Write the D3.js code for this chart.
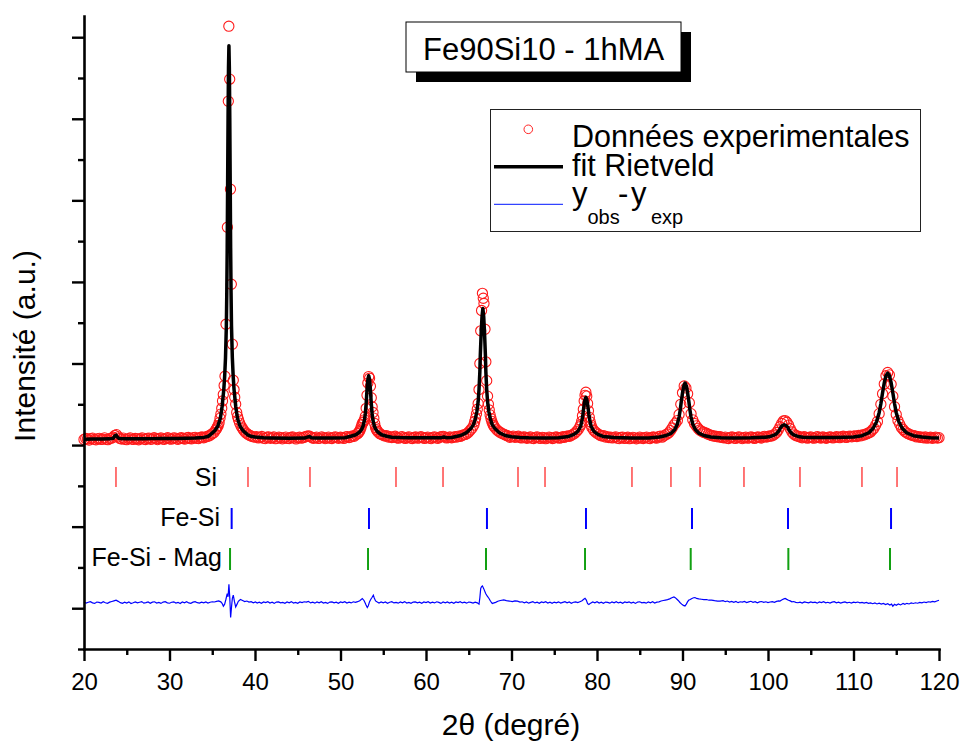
<!DOCTYPE html>
<html><head><meta charset="utf-8">
<script src="https://cdn.jsdelivr.net/npm/d3@7"></script>
<style>body{margin:0;background:#fff} svg{display:block} text{font-family:"Liberation Sans",Arial,sans-serif}</style>
</head><body><svg id="c" width="963" height="745"></svg>
<script>
// ---------- DATA ----------
const xTicksMajor = [20,30,40,50,60,70,80,90,100,110,120];
const xTicksMinor = [25,35,45,55,65,75,85,95,105,115];
const yTicksMajor = [0,1000,2000,3000,4000,5000,6000,7000];
const yTicksMinor = [-500,500,1500,2500,3500,4500,5500,6500];

const phaseNames = ["Si","Fe-Si","Fe-Si - Mag"];
const siPeaks = [23.74,39.18,46.43,56.49,61.99,70.76,73.92,84.09,88.65,92.05,97.19,103.74,110.99,115.09];
const feSiPeaks = [37.27,53.33,67.13,78.71,91.11,102.34,114.39];
const feSiMagPeaks = [37.08,53.22,67.02,78.60,90.96,102.38,114.27];

const legendLabels = ["Données experimentales","fit Rietveld"];
const titleText = "Fe90Si10 - 1hMA";
const diffOffset = 70;

// observed intensities [2theta, counts]
const obsPoints = [
[20.0,2068],[20.2,2081],[20.4,2075],[20.6,2062],[20.8,2079],[21.0,2086],[21.2,2070],[21.4,2064],[21.6,2077],[21.8,2083],[22.0,2069],[22.2,2074],[22.4,2088],[22.6,2071],[22.8,2066],[23.0,2080],[23.2,2084],[23.4,2096],[23.6,2118],[23.8,2128],[24.0,2101],[24.2,2082],[24.4,2073],[24.6,2085],[24.8,2070],[25.0,2066],[25.2,2079],[25.4,2088],[25.6,2074],[25.8,2069],[26.0,2081],[26.2,2076],[26.4,2065],[26.6,2078],[26.8,2089],[27.0,2073],[27.2,2068],[27.4,2082],[27.6,2086],[27.8,2071],[28.0,2075],[28.2,2090],[28.4,2079],[28.6,2067],[28.8,2080],[29.0,2087],[29.2,2074],[29.4,2070],[29.6,2083],[29.8,2091],[30.0,2077],[30.2,2072],[30.4,2085],[30.6,2089],[30.8,2076],[31.0,2070],[31.2,2084],[31.4,2092],[31.6,2080],[31.8,2074],[32.0,2087],[32.2,2093],[32.4,2079],[32.6,2076],[32.8,2090],[33.0,2094],[33.2,2082],[33.4,2079],[33.6,2093],[33.8,2099],[34.0,2090],[34.2,2098],[34.4,2106],[34.6,2112],[34.8,2124],
[35.0,2140],[35.2,2155],[35.4,2185],[35.5,2200],[35.6,2222],[35.7,2240],[35.8,2275],[35.91,2330],[36.01,2380],[36.11,2450],[36.20,2540],[36.29,2620],[36.39,2730],[36.49,2844],[36.61,3482],[36.77,4671],[36.88,6216],[36.94,7135],[37.04,6486],[37.13,5137],[37.23,3972],[37.35,3237],[37.46,2795],[37.55,2680],[37.63,2587],[37.74,2500],[37.86,2400],[37.96,2350],[38.07,2310],[38.2,2270],[38.36,2235],[38.5,2210],[38.65,2185],[38.83,2160],[39.0,2145],[39.2,2130],[39.4,2118],[39.6,2108],[39.8,2101],[40.0,2098],
[40.2,2102],[40.4,2088],[40.6,2094],[40.8,2105],[41.0,2085],[41.2,2079],[41.4,2096],[41.6,2100],[41.8,2083],[42.0,2091],[42.2,2099],[42.4,2078],[42.6,2084],[42.8,2097],[43.0,2090],[43.2,2076],[43.4,2088],[43.6,2098],[43.8,2082],[44.0,2079],[44.2,2093],[44.4,2100],[44.6,2087],[44.8,2075],[45.0,2089],[45.2,2096],[45.4,2084],[45.6,2091],[45.8,2099],[46.0,2105],[46.2,2112],[46.4,2108],[46.6,2095],[46.8,2083],[47.0,2090],[47.2,2098],[47.4,2081],[47.6,2086],[47.8,2100],[48.0,2092],[48.2,2079],[48.4,2088],[48.6,2097],[48.8,2085],[49.0,2080],[49.2,2094],[49.4,2101],[49.6,2089],[49.8,2083],[50.0,2096],[50.2,2092],[50.4,2081],[50.6,2099],[50.8,2104],[51.0,2093],[51.2,2100],[51.4,2112],[51.6,2108],[51.8,2125],
[52.0,2140],[52.1,2150],[52.2,2165],[52.3,2185],[52.4,2215],[52.5,2250],[52.6,2275],[52.7,2285],[52.8,2310],[52.9,2350],[53.0,2450],[53.1,2610],[53.2,2760],[53.3,2840],[53.4,2820],[53.5,2720],[53.6,2580],[53.7,2470],[53.8,2400],[53.9,2330],[54.0,2265],[54.1,2215],[54.2,2190],[54.3,2172],[54.4,2160],[54.6,2140],[54.8,2128],[55.0,2120],
[55.2,2110],[55.4,2115],[55.6,2098],[55.8,2103],[56.0,2092],[56.2,2099],[56.4,2108],[56.6,2090],[56.8,2085],[57.0,2098],[57.2,2103],[57.4,2089],[57.6,2082],[57.8,2095],[58.0,2100],[58.2,2086],[58.4,2080],[58.6,2093],[58.8,2099],[59.0,2084],[59.2,2089],[59.4,2102],[59.6,2095],[59.8,2081],[60.0,2090],[60.2,2098],[60.4,2086],[60.6,2079],[60.8,2094],[61.0,2101],[61.2,2088],[61.4,2083],[61.6,2097],[61.8,2103],[62.0,2106],[62.2,2099],[62.4,2087],[62.6,2092],[62.8,2100],[63.0,2089],[63.2,2095],[63.4,2104],[63.6,2098],[63.8,2110],[64.0,2106],[64.2,2118],[64.4,2125],[64.6,2130],[64.8,2142],[65.0,2160],[65.2,2185],[65.4,2210],
[65.6,2245],[65.7,2290],[65.8,2330],[65.9,2380],[66.0,2440],[66.1,2510],[66.2,2680],[66.3,3000],[66.4,3400],[66.5,3650],[66.6,3860],[66.7,3800],[66.78,3736],[66.9,3420],[67.0,3020],[67.1,2790],[67.2,2600],[67.3,2500],[67.4,2430],[67.5,2370],[67.6,2325],[67.7,2290],[67.8,2262],[67.9,2240],[68.0,2222],[68.2,2196],[68.4,2175],[68.6,2160],[68.8,2148],[69.0,2138],[69.2,2128],[69.4,2118],
[69.6,2112],[69.8,2096],[70.0,2104],[70.2,2110],[70.4,2095],[70.6,2101],[70.8,2108],[71.0,2092],[71.2,2087],[71.4,2100],[71.6,2096],[71.8,2083],[72.0,2091],[72.2,2099],[72.4,2085],[72.6,2080],[72.8,2094],[73.0,2100],[73.2,2087],[73.4,2082],[73.6,2095],[73.8,2090],[74.0,2078],[74.2,2086],[74.4,2097],[74.6,2092],[74.8,2080],[75.0,2088],[75.2,2099],[75.4,2093],[75.6,2084],[75.8,2091],[76.0,2102],[76.2,2096],[76.4,2105],[76.6,2112],[76.8,2108],[77.0,2120],[77.2,2132],[77.4,2145],
[77.6,2165],[77.8,2190],[78.0,2225],[78.1,2250],[78.2,2290],[78.3,2360],[78.4,2440],[78.5,2540],[78.6,2610],[78.7,2648],[78.8,2600],[78.9,2510],[79.0,2420],[79.1,2340],[79.2,2285],[79.3,2245],[79.4,2215],[79.6,2182],[79.8,2160],[80.0,2146],[80.2,2132],
[80.4,2118],[80.6,2110],[80.8,2115],[81.0,2098],[81.2,2104],[81.4,2092],[81.6,2097],[81.8,2088],[82.0,2095],[82.2,2101],[82.4,2084],[82.6,2079],[82.8,2093],[83.0,2098],[83.2,2082],[83.4,2087],[83.6,2096],[83.8,2078],[84.0,2083],[84.2,2094],[84.4,2089],[84.6,2076],[84.8,2085],[85.0,2097],[85.2,2088],[85.4,2080],[85.6,2092],[85.8,2098],[86.0,2084],[86.2,2079],[86.4,2093],[86.6,2099],[86.8,2090],[87.0,2086],[87.2,2102],[87.4,2108],[87.6,2097],[87.8,2112],
[88.0,2125],[88.2,2135],[88.4,2150],[88.6,2178],[88.8,2210],[89.0,2245],[89.2,2270],[89.4,2300],[89.6,2375],[89.8,2500],[90.0,2640],[90.2,2725],[90.4,2700],[90.6,2630],[90.8,2520],[91.0,2385],[91.2,2310],[91.4,2265],[91.6,2235],[91.8,2205],[92.0,2185],[92.2,2172],[92.4,2160],[92.6,2152],[92.8,2145],[93.0,2133],[93.2,2125],[93.4,2118],[93.6,2112],[93.8,2109],[94.0,2106],[94.2,2100],[94.4,2103],
[94.6,2094],[94.8,2089],[95.0,2098],[95.2,2085],[95.4,2080],[95.6,2094],[95.8,2099],[96.0,2087],[96.2,2082],[96.4,2095],[96.6,2100],[96.8,2088],[97.0,2079],[97.2,2091],[97.4,2097],[97.6,2084],[97.8,2089],[98.0,2101],[98.2,2093],[98.4,2082],[98.6,2090],[98.8,2099],[99.0,2094],[99.2,2086],[99.4,2100],[99.6,2106],[99.8,2098],[100.0,2105],[100.2,2112],[100.4,2110],
[100.6,2120],[100.8,2135],[101.0,2155],[101.2,2185],[101.4,2225],[101.6,2265],[101.8,2295],[102.0,2300],[102.2,2280],[102.4,2245],[102.6,2200],[102.8,2160],[103.0,2135],[103.2,2120],[103.4,2112],[103.6,2105],
[103.8,2098],[104.0,2090],[104.2,2102],[104.4,2096],[104.6,2085],[104.8,2093],[105.0,2100],[105.2,2089],[105.4,2084],[105.6,2097],[105.8,2103],[106.0,2091],[106.2,2086],[106.4,2099],[106.6,2094],[106.8,2083],[107.0,2092],[107.2,2101],[107.4,2096],[107.6,2088],[107.8,2095],[108.0,2104],[108.2,2098],[108.4,2091],[108.6,2102],[108.8,2108],[109.0,2099],[109.2,2094],[109.4,2106],[109.6,2110],[109.8,2101],[110.0,2108],[110.2,2112],
[110.4,2105],[110.6,2118],[110.8,2112],[111.0,2124],[111.2,2122],[111.4,2133],[111.6,2140],[111.8,2152],[112.0,2160],[112.2,2185],[112.4,2205],[112.6,2245],[112.8,2290],[113.0,2385],[113.2,2500],[113.4,2630],[113.6,2750],[113.8,2850],[114.0,2890],[114.2,2860],[114.4,2745],[114.6,2600],[114.8,2470],[115.0,2375],[115.2,2300],[115.4,2255],[115.6,2215],[115.8,2190],[116.0,2165],[116.2,2150],[116.4,2140],[116.6,2128],[116.8,2122],[117.0,2115],[117.2,2112],[117.4,2100],[117.6,2104],[117.8,2096],[118.0,2098],
[118.2,2090],[118.4,2099],[118.6,2085],[118.8,2092],[119.0,2096],[119.2,2083],[119.4,2090],[119.6,2097],[119.8,2086],[120.0,2091]
];

// Rietveld fit [2theta, counts]
const fitPoints = [
[20.0,2072],[21.0,2073],[22.0,2074],[23.0,2076],[23.4,2082],[23.6,2112],[23.75,2122],[23.9,2100],[24.1,2080],[25.0,2077],[26.0,2078],[27.0,2078],[28.0,2079],[29.0,2080],[30.0,2081],[31.0,2082],[32.0,2084],[33.0,2087],[34.0,2094],[34.5,2105],
[34.75,2125],[35.25,2170],[35.65,2230],[35.95,2330],[36.15,2470],[36.35,2680],[36.45,2840],[36.55,3071],[36.65,3463],[36.70,3868],[36.75,4419],[36.80,5216],[36.85,6013],[36.90,6626],[36.95,6896],[37.00,6626],[37.05,6013],[37.10,5216],[37.15,4419],[37.20,3868],[37.25,3463],[37.35,3071],[37.45,2840],[37.55,2680],[37.75,2470],[37.95,2330],[38.25,2230],[38.65,2170],[39.15,2125],[39.5,2108],[40.0,2098],
[41.0,2090],[42.0,2087],[44.0,2085],[45.8,2086],[46.2,2100],[46.4,2104],[46.6,2090],[47.0,2086],[49.0,2086],[50.5,2090],
[51.2,2108],[51.8,2127],[52.2,2157],[52.45,2188],[52.65,2237],[52.8,2305],[52.9,2384],[53.0,2507],[53.1,2678],[53.2,2801],[53.3,2850],[53.4,2801],[53.5,2678],[53.6,2507],[53.7,2384],[53.8,2305],[53.95,2237],[54.15,2188],[54.4,2157],[54.8,2127],[55.4,2108],
[56.0,2097],[57.0,2092],[58.0,2090],[60.0,2090],[61.8,2091],[62.1,2098],[62.4,2091],[63.0,2093],
[64.05,2117],[64.75,2153],[65.25,2202],[65.55,2251],[65.75,2313],[65.95,2411],[66.1,2533],[66.2,2680],[66.3,2901],[66.35,3097],[66.45,3367],[66.55,3575],[66.65,3674],[66.75,3575],[66.85,3367],[66.95,3097],[67.0,2901],[67.1,2680],[67.2,2533],[67.35,2411],[67.55,2313],[67.75,2251],[68.05,2202],[68.55,2153],[69.25,2117],
[70.0,2102],[71.0,2094],[72.0,2090],[74.0,2088],[75.5,2090],
[76.7,2106],[77.3,2131],[77.7,2162],[77.9,2192],[78.1,2235],[78.25,2309],[78.35,2376],[78.4,2419],[78.5,2499],[78.6,2560],[78.7,2585],[78.8,2560],[78.9,2499],[79.0,2419],[79.05,2376],[79.15,2309],[79.3,2235],[79.5,2192],[79.7,2162],[80.1,2131],[80.7,2106],
[82.0,2092],[84.0,2086],[86.0,2086],
[87.3,2098],[88.1,2117],[88.7,2147],[89.1,2190],[89.4,2258],[89.6,2343],[89.75,2442],[89.85,2527],[90.0,2638],[90.15,2724],[90.3,2760],[90.45,2724],[90.6,2638],[90.75,2527],[90.85,2442],[91.0,2343],[91.2,2258],[91.5,2190],[91.9,2147],[92.5,2117],[93.3,2098],
[94.5,2090],[96.0,2088],[98.0,2089],
[99.7,2096],[100.3,2106],[100.7,2121],[101.0,2139],[101.25,2170],[101.5,2219],[101.7,2240],[101.9,2249],[102.1,2240],[102.3,2219],[102.55,2170],[102.8,2139],[103.1,2121],[103.5,2106],[104.1,2096],
[105.0,2092],[106.0,2092],[108.0,2094],
[110.0,2100],[111.0,2115],[111.8,2151],[112.3,2206],[112.7,2286],[113.0,2397],[113.2,2507],[113.4,2642],[113.6,2764],[113.8,2850],[114.0,2882],[114.2,2850],[114.4,2764],[114.6,2642],[114.8,2507],[115.0,2397],[115.3,2286],[115.7,2206],[116.2,2151],[117.0,2115],[118.0,2100],[119.0,2090],[120.0,2086]
];

// difference y_obs - y_calc [2theta, counts]
const diffPoints = [
[20.00,5],[20.25,-8],[20.50,3],[20.75,10],[21.00,-4],[21.25,-11],[21.50,6],[21.75,2],[22.00,-7],[22.25,9],[22.50,-3],[22.75,-10],[23.00,4],[23.25,12],[23.50,20],[23.75,28],[24.00,14],[24.25,-2],[24.50,-9],[24.75,5],[25.00,-6],[25.25,8],[25.50,-12],[25.75,-3],[26.00,7],[26.25,-5],[26.50,3],[26.75,11],[27.00,-8],[27.25,-2],[27.50,6],[27.75,-10],[28.00,4],[28.25,9],[28.50,-6],[28.75,1],[29.00,-11],[29.25,5],[29.50,10],[29.75,-4],[30.00,-9],[30.25,3],[30.50,8],[30.75,-7],[31.00,2],[31.25,-12],[31.50,6],[31.75,-3],[32.00,9],[32.25,-5],[32.50,-10],[32.75,4],[33.00,11],[33.25,-2],[33.50,-8],[33.75,5],[34.00,-4],[34.25,7],[34.50,-6],[34.75,3],[35.00,9],[35.25,6],[35.50,14],[35.75,20],[36.00,8],[36.15,-10],[36.30,-45],[36.45,-20],[36.60,40],[36.75,110],[36.85,70],[36.95,224],[37.05,60],[37.15,-184],[37.25,-60],[37.35,50],[37.46,90],[37.60,10],[37.74,-54],[37.90,-20],[38.05,15],[38.30,37],[38.55,25],[38.80,12],[39.05,18],[39.30,5],[39.55,10],[39.80,-3],
[40.05,8],[40.25,-6],[40.50,4],[40.75,-9],[41.00,6],[41.25,-2],[41.50,10],[41.75,-7],[42.00,3],[42.25,-11],[42.50,5],[42.75,8],[43.00,-4],[43.25,2],[43.50,-9],[43.75,7],[44.00,-3],[44.25,11],[44.50,-6],[44.75,1],[45.00,-10],[45.25,6],[45.50,-2],[45.75,9],[46.00,4],[46.25,14],[46.50,-5],[46.75,3],[47.00,-8],[47.25,7],[47.50,-3],[47.75,10],[48.00,-6],[48.25,2],[48.50,-11],[48.75,5],[49.00,8],[49.25,-4],[49.50,3],[49.75,-9],[50.00,6],[50.25,-2],[50.50,10],[50.75,-7],[51.00,4],[51.25,-5],[51.50,9],[51.75,2],[52.00,10],[52.25,22],[52.55,49],[52.75,25],[52.90,-10],[53.00,-35],[53.13,-61],[53.25,-40],[53.40,10],[53.55,40],[53.70,65],[53.84,90],[53.95,55],[54.10,20],[54.30,5],[54.50,-6],[54.75,8],[55.00,-3],[55.25,6],[55.50,-9],[55.75,3],[56.00,10],[56.25,-5],[56.50,2],[56.75,-8],[57.00,7],[57.25,-3],[57.50,11],[57.75,-6],[58.00,1],[58.25,-10],[58.50,5],[58.75,8],[59.00,-4],[59.25,3],[59.50,-9],[59.75,6],
[60.00,-2],[60.25,10],[60.50,-7],[60.75,4],[61.00,-5],[61.25,9],[61.50,2],[61.75,-11],[62.00,6],[62.25,-3],[62.50,8],[62.75,-6],[63.00,3],[63.25,-9],[63.50,7],[63.75,-2],[64.00,10],[64.25,-5],[64.50,4],[64.75,-8],[65.00,6],[65.25,1],[65.50,-7],[65.75,5],[66.00,-4],[66.20,-21],[66.30,60],[66.40,172],[66.50,195],[66.60,204],[66.75,170],[66.98,110],[67.15,80],[67.37,49],[67.55,15],[67.75,-12],[67.95,-5],[68.15,2],[68.40,15],[68.70,25],[69.10,33],[69.40,24],[69.75,18],[70.10,10],[70.40,20],[70.70,16],[71.00,4],[71.25,9],[71.50,-3],[71.75,6],[72.00,-8],[72.25,2],[72.50,10],[72.75,-5],[73.00,3],[73.25,-9],[73.50,7],[73.75,-2],[74.00,9],[74.25,-6],[74.50,4],[74.75,-10],[75.00,5],[75.25,-3],[75.50,8],[75.75,-7],[76.00,2],[76.25,11],[76.50,-4],[76.75,6],[77.00,-9],[77.25,3],[77.50,7],[77.75,-2],[78.00,10],[78.25,22],[78.45,40],[78.60,52],[78.75,30],[78.90,-15],[79.05,-25],[79.25,-8],[79.50,6],[79.75,-3],
[80.00,9],[80.25,-6],[80.50,4],[80.75,-10],[81.00,5],[81.25,2],[81.50,-8],[81.75,7],[82.00,-3],[82.25,10],[82.50,-5],[82.75,3],[83.00,-9],[83.25,6],[83.50,-2],[83.75,8],[84.00,-7],[84.25,4],[84.50,-11],[84.75,5],[85.00,9],[85.25,-4],[85.50,2],[85.75,-8],[86.00,6],[86.25,-3],[86.50,10],[86.75,-6],[87.00,4],[87.25,8],[87.50,18],[87.75,25],[88.00,30],[88.25,35],[88.50,45],[88.75,58],[89.00,69],[89.15,60],[89.35,40],[89.50,25],[89.70,0],[89.90,-20],[90.10,-35],[90.29,-42],[90.45,-20],[90.60,10],[90.75,30],[90.90,37],[91.10,50],[91.30,58],[91.46,61],[91.65,50],[91.90,44],[92.20,40],[92.50,35],[92.80,37],[93.10,28],[93.40,30],[93.75,22],[94.10,18],[94.40,16],[94.75,22],[95.00,10],[95.25,18],[95.50,6],[95.75,14],[96.00,3],[96.25,12],[96.50,-2],[96.75,9],[97.00,4],[97.25,13],[97.50,-1],[97.75,8],[98.00,15],[98.25,3],[98.50,10],[98.75,-3],[99.00,7],[99.25,12],[99.50,2],[99.75,9],
[100.00,-2],[100.25,6],[100.50,11],[100.75,3],[101.00,14],[101.25,20],[101.40,18],[101.60,30],[101.80,42],[102.00,49],[102.20,38],[102.40,28],[102.60,20],[102.80,8],[103.00,12],[103.25,2],[103.50,-3],[103.75,5],[104.00,-6],[104.25,8],[104.50,1],[104.75,-5],[105.00,7],[105.25,-2],[105.50,4],[105.75,-8],[106.00,6],[106.25,-1],[106.50,9],[106.75,-4],[107.00,3],[107.25,-7],[107.50,5],[107.75,10],[108.00,-3],[108.25,4],[108.50,-6],[108.75,2],[109.00,8],[109.25,-4],[109.50,3],[109.75,-7],[110.00,5],[110.25,-2],[110.50,6],[110.75,-5],[111.00,2],[111.25,-8],[111.50,1],[111.75,-10],[112.00,-4],[112.25,-15],[112.50,-6],[112.75,-18],[113.00,-9],[113.25,-20],[113.50,-12],[113.75,-25],[114.00,-14],[114.25,-30],[114.45,-20],[114.60,-45],[114.80,-22],[115.00,-35],[115.25,-18],[115.50,-30],[115.80,-12],[116.00,-22],[116.25,-10],[116.50,-18],[116.75,-6],[117.00,-12],[117.25,-3],[117.50,-9],[117.75,2],[118.00,-5],[118.25,6],[118.50,-2],[118.75,9],[119.00,4],[119.25,14],[119.50,8],[119.75,18],[120.00,28]
];

// ---------- CHART ----------
const FONT = '"Liberation Sans", Arial, sans-serif';
const svg = d3.select('#c');
const x = d3.scaleLinear().domain([20,120]).range([84,939]);
const y = d3.scaleLinear().domain([-500,7260]).range([649,16]);

// observed circles
svg.append('g').selectAll('circle').data(obsPoints).join('circle')
  .attr('cx', d => x(d[0])).attr('cy', d => y(d[1])).attr('r', 5.1)
  .attr('fill', 'none').attr('stroke', '#ff1a1a').attr('stroke-width', 1.1);

// fit line
svg.append('path').datum(fitPoints)
  .attr('d', d3.line().x(d => x(d[0])).y(d => y(d[1])))
  .attr('fill', 'none').attr('stroke', '#000').attr('stroke-width', 3.5)
  .attr('stroke-linejoin', 'round');

// difference line
svg.append('path').datum(diffPoints)
  .attr('d', d3.line().x(d => x(d[0])).y(d => y(d[1] + diffOffset)))
  .attr('fill', 'none').attr('stroke', '#0000ff').attr('stroke-width', 1.2);

// Bragg reflection markers
const rows = [
  {name: phaseNames[0], peaks: siPeaks, color: '#ff3b3b', w: 1.4, y0: 467, y1: 487, ty: 486, tx: 217},
  {name: phaseNames[1], peaks: feSiPeaks, color: '#0000ff', w: 2, y0: 508, y1: 529, ty: 526, tx: 220},
  {name: phaseNames[2], peaks: feSiMagPeaks, color: '#12a012', w: 2, y0: 548, y1: 570, ty: 566, tx: 222}
];
rows.forEach(r => {
  svg.append('g').selectAll('line').data(r.peaks).join('line')
    .attr('x1', d => x(d)).attr('x2', d => x(d)).attr('y1', r.y0).attr('y2', r.y1)
    .attr('stroke', r.color).attr('stroke-width', r.w);
  svg.append('text').attr('x', r.tx).attr('y', r.ty).attr('text-anchor', 'end')
    .attr('font-size', 25).attr('fill', '#000').text(r.name);
});

// axes
function styleAxis(g){
  g.selectAll('path.domain').attr('stroke', '#000').attr('stroke-width', 2.6).attr('stroke-linecap','square');
  g.selectAll('.tick line').attr('stroke', '#000').attr('stroke-width', 2.4);
  g.attr('font-family', FONT);
}
const gx = svg.append('g').attr('transform', 'translate(0,649)')
  .call(d3.axisBottom(x).tickValues(xTicksMajor).tickSize(12).tickSizeOuter(0).tickPadding(12).tickFormat(d3.format('d')));
styleAxis(gx);
gx.selectAll('.tick text').attr('font-size', 24).attr('fill', '#000');
const gxm = svg.append('g').attr('transform', 'translate(0,649)')
  .call(d3.axisBottom(x).tickValues(xTicksMinor).tickSize(6).tickSizeOuter(0).tickFormat(''));
gxm.select('path.domain').remove();
styleAxis(gxm);

const gy = svg.append('g').attr('transform', 'translate(84,0)')
  .call(d3.axisLeft(y).tickValues(yTicksMajor).tickSize(12).tickSizeOuter(0).tickFormat(''));
styleAxis(gy);
const gym = svg.append('g').attr('transform', 'translate(84,0)')
  .call(d3.axisLeft(y).tickValues(yTicksMinor).tickSize(6).tickSizeOuter(0).tickFormat(''));
gym.select('path.domain').remove();
styleAxis(gym);

// axis titles
svg.append('text').attr('x', 511).attr('y', 735).attr('text-anchor', 'middle')
  .attr('font-size', 30).attr('font-family', FONT).text('2θ (degré)');
svg.append('text').attr('transform', 'translate(35,346) rotate(-90)').attr('text-anchor', 'middle')
  .attr('font-size', 30).attr('font-family', FONT).text('Intensité (a.u.)');

// title box with shadow
svg.append('rect').attr('x', 416).attr('y', 32).attr('width', 275).attr('height', 50).attr('fill', '#000');
svg.append('rect').attr('x', 406).attr('y', 22).attr('width', 275).attr('height', 50)
  .attr('fill', '#fff').attr('stroke', '#000').attr('stroke-width', 1);
svg.append('text').attr('x', 423).attr('y', 59.5).attr('font-size', 31).attr('font-family', FONT).text(titleText);

// legend
const lg = svg.append('g').attr('font-family', FONT);
lg.append('rect').attr('x', 490.5).attr('y', 109.5).attr('width', 430).attr('height', 122)
  .attr('fill', '#fff').attr('stroke', '#222').attr('stroke-width', 1);
lg.append('circle').attr('cx', 528.3).attr('cy', 129.3).attr('r', 4.3)
  .attr('fill', 'none').attr('stroke', '#ff2424').attr('stroke-width', 1);
lg.append('text').attr('x', 572).attr('y', 147).attr('font-size', 30.5).text(legendLabels[0]);
lg.append('line').attr('x1', 494).attr('x2', 563).attr('y1', 166.7).attr('y2', 166.7)
  .attr('stroke', '#000').attr('stroke-width', 3.5);
lg.append('text').attr('x', 572).attr('y', 175.5).attr('font-size', 30.5).text(legendLabels[1]);
lg.append('line').attr('x1', 494).attr('x2', 563).attr('y1', 204.3).attr('y2', 204.3)
  .attr('stroke', '#3344ff').attr('stroke-width', 1.2);
const t3 = lg.append('text').attr('y', 204).attr('font-size', 31);
t3.append('tspan').attr('x', 572).text('y');
t3.append('tspan').attr('x', 587.5).attr('y', 224).attr('font-size', 20).text('obs');
t3.append('tspan').attr('x', 618).attr('y', 204).text('-');
t3.append('tspan').attr('x', 631).attr('y', 204).text('y');
t3.append('tspan').attr('x', 651).attr('y', 224).attr('font-size', 20).text('exp');
</script>
</body></html>
